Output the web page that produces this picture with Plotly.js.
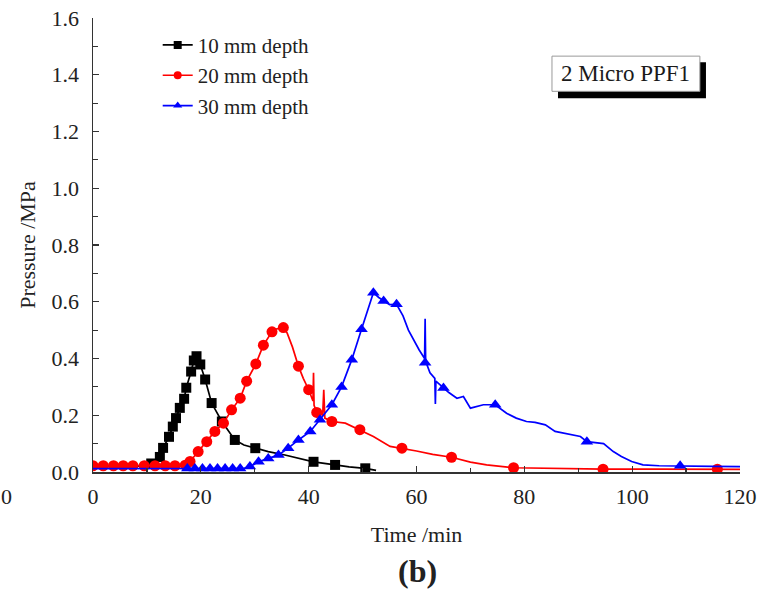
<!DOCTYPE html>
<html>
<head>
<meta charset="utf-8">
<script src="https://cdn.plot.ly/plotly-3.0.1.min.js"></script>
<style>html,body{margin:0;padding:0;background:#fff;}#chart{width:760px;height:600px;}</style>
</head>
<body>
<div id="chart"></div>
<script>
// ---- Data (Time /min, Pressure /MPa) ----
// 10 mm depth: full line and the points carrying markers
const d10LineT = [0, 2, 4, 6, 8, 10, 11.5, 12.4, 13.0, 14.1, 14.8, 15.4, 16.1, 16.9, 17.3, 18.2, 18.7, 19.2, 19.9, 20.8, 22.0, 23.9, 26.3, 28.0, 30.1, 32.5, 35.6, 38.0, 40.9, 44.9, 47.5, 50.5, 52.5];
const d10LineP = [0.02, 0.02, 0.02, 0.02, 0.02, 0.025, 0.04, 0.053, 0.085, 0.124, 0.16, 0.19, 0.226, 0.258, 0.297, 0.354, 0.393, 0.408, 0.379, 0.326, 0.243, 0.178, 0.113, 0.095, 0.084, 0.072, 0.06, 0.048, 0.036, 0.025, 0.018, 0.013, 0.006];
const d10MarkT = [10.8, 12.4, 13.0, 14.1, 14.8, 15.4, 16.1, 16.9, 17.3, 18.2, 18.7, 19.2, 19.9, 20.8, 22.0, 23.9, 26.3, 30.1, 40.9, 44.9, 50.5];
const d10MarkP = [0.03, 0.053, 0.085, 0.124, 0.16, 0.19, 0.226, 0.258, 0.297, 0.354, 0.393, 0.408, 0.379, 0.326, 0.243, 0.178, 0.113, 0.084, 0.036, 0.025, 0.013];

// 20 mm depth
const d20LineT = [0, 2, 4, 6, 8, 10, 12, 14, 16, 17.1, 18.0, 19.5, 21.1, 22.6, 24.2, 25.7, 27.3, 28.5, 30.2, 31.6, 33.2, 33.8, 35.3, 36.0, 37.0, 38.1, 39.0, 40.0, 40.8, 40.9, 41.0, 41.5, 42.6, 42.8, 43.0, 44.3, 46.8, 49.5, 52.0, 55.1, 57.3, 60.0, 63.0, 66.5, 70.0, 73.0, 78.0, 85.0, 94.6, 105, 115.8, 120];
const d20LineP = [0.022, 0.022, 0.022, 0.022, 0.022, 0.022, 0.022, 0.022, 0.022, 0.024, 0.037, 0.072, 0.107, 0.143, 0.172, 0.219, 0.26, 0.32, 0.381, 0.447, 0.494, 0.503, 0.509, 0.49, 0.44, 0.373, 0.33, 0.29, 0.25, 0.35, 0.235, 0.21, 0.2, 0.29, 0.19, 0.178, 0.172, 0.149, 0.125, 0.09, 0.084, 0.074, 0.062, 0.052, 0.035, 0.025, 0.015, 0.012, 0.01, 0.01, 0.01, 0.009];
const d20MarkT = [0, 1.9, 3.8, 5.6, 7.4, 9.5, 11.5, 13.4, 15.2, 17.1, 18.0, 19.5, 21.1, 22.6, 24.2, 25.7, 27.3, 28.5, 30.2, 31.6, 33.2, 35.3, 38.1, 40.0, 41.5, 44.3, 49.5, 57.3, 66.5, 78.0, 94.6, 115.8];
const d20MarkP = [0.022, 0.022, 0.022, 0.022, 0.022, 0.022, 0.022, 0.022, 0.022, 0.024, 0.037, 0.072, 0.107, 0.143, 0.172, 0.219, 0.26, 0.32, 0.381, 0.447, 0.494, 0.509, 0.373, 0.29, 0.21, 0.178, 0.149, 0.084, 0.052, 0.015, 0.01, 0.01];

// 30 mm depth
const d30LineT = [0, 4, 8, 12, 16, 20, 24, 28, 29.1, 30.7, 32.5, 34.4, 36.2, 38.1, 40.3, 42.1, 44.3, 46.1, 48.0, 49.8, 52.0, 53.0, 53.9, 55.0, 56.3, 57.5, 58.5, 59.4, 60.5, 61.5, 61.6, 61.7, 62.5, 63.4, 63.5, 63.6, 65.0, 66.0, 67.5, 68.7, 70.0, 71.0, 72.4, 74.6, 76.7, 78.5, 80.4, 82.0, 83.9, 85.7, 88.0, 90.4, 91.6, 93.0, 94.7, 96.5, 98.0, 99.9, 102, 105, 108.9, 115, 120];
const d30LineP = [0.012, 0.012, 0.012, 0.012, 0.012, 0.012, 0.012, 0.013, 0.019, 0.036, 0.048, 0.06, 0.084, 0.113, 0.143, 0.184, 0.237, 0.30, 0.396, 0.503, 0.632, 0.615, 0.603, 0.59, 0.591, 0.55, 0.50, 0.467, 0.43, 0.40, 0.54, 0.39, 0.35, 0.33, 0.24, 0.32, 0.296, 0.28, 0.26, 0.266, 0.225, 0.23, 0.237, 0.237, 0.207, 0.19, 0.178, 0.175, 0.166, 0.143, 0.135, 0.125, 0.107, 0.105, 0.10, 0.072, 0.055, 0.037, 0.025, 0.022, 0.022, 0.02, 0.019];
const d30MarkT = [17.5, 18.9, 20.3, 21.7, 23.1, 24.5, 25.9, 27.3, 29.1, 30.7, 32.5, 34.4, 36.2, 38.1, 40.3, 42.1, 44.3, 46.1, 48.0, 49.8, 52.0, 53.9, 56.3, 61.6, 65.0, 74.6, 91.6, 108.9];
const d30MarkP = [0.012, 0.012, 0.012, 0.012, 0.012, 0.012, 0.012, 0.012, 0.019, 0.036, 0.048, 0.06, 0.084, 0.113, 0.143, 0.184, 0.237, 0.30, 0.396, 0.503, 0.632, 0.603, 0.591, 0.385, 0.296, 0.237, 0.107, 0.022];

const seriesNames = ['10 mm depth', '20 mm depth', '30 mm depth'];
const xTickVals = [0, 20, 40, 60, 80, 100, 120];
const yTickVals = [0.0, 0.2, 0.4, 0.6, 0.8, 1.0, 1.2, 1.4, 1.6];
const boxLabel = '2 Micro PPF1';
const panelLabel = '(b)';

// ---- Styles ----
const styles = [
  {color: '#000000', symbol: 'square', size: 10},
  {color: '#ff0000', symbol: 'circle', size: 11},
  {color: '#0000ff', symbol: 'triangle-up', size: 11}
];
const lines = [[d10LineT, d10LineP], [d20LineT, d20LineP], [d30LineT, d30LineP]];
const marks = [[d10MarkT, d10MarkP], [d20MarkT, d20MarkP], [d30MarkT, d30MarkP]];

const traces = [];
for (let i = 0; i < 3; i++) {
  const s = styles[i];
  traces.push({x: lines[i][0], y: lines[i][1], mode: 'lines', type: 'scatter',
    line: {color: s.color, width: 1.7}, showlegend: false, hoverinfo: 'skip'});
  traces.push({x: marks[i][0], y: marks[i][1], mode: 'markers', type: 'scatter',
    marker: {color: s.color, symbol: s.symbol, size: s.size, line: {width: 0}}, showlegend: false});
}
// legend entries
for (let i = 0; i < 3; i++) {
  const s = styles[i];
  traces.push({x: [null], y: [null], mode: 'lines+markers', type: 'scatter', name: seriesNames[i],
    line: {color: s.color, width: 1.7}, marker: {color: s.color, symbol: s.symbol, size: 8}});
}

const font = 'Liberation Serif, Times New Roman, serif';
const layout = {
  width: 760, height: 600,
  margin: {l: 93, r: 20, t: 18, b: 128},
  paper_bgcolor: '#fff', plot_bgcolor: '#fff',
  font: {family: font, size: 22, color: '#222'},
  showlegend: true,
  legend: {x: 0.1, y: 0.985, xanchor: 'left', yanchor: 'top', bgcolor: 'rgba(0,0,0,0)',
    font: {family: font, size: 21, color: '#222'}, tracegroupgap: 0},
  xaxis: {range: [0, 120], tickvals: xTickVals, ticks: 'inside', ticklen: 6, tickwidth: 1.2,
    tickcolor: '#333', showline: true, linecolor: '#333', linewidth: 1.5, showgrid: false,
    zeroline: false, ticklabelstandoff: 4,
    minor: {dtick: 10, ticks: 'inside', ticklen: 4, tickcolor: '#333', showgrid: false},
    title: {text: 'Time /min', font: {family: font, size: 22, color: '#222'}, standoff: 18}},
  yaxis: {range: [0, 1.6], tickvals: yTickVals, tickformat: '.1f', ticks: 'inside', ticklen: 6,
    tickwidth: 1.2, tickcolor: '#333', showline: true, linecolor: '#333', linewidth: 1.5,
    showgrid: false, zeroline: false, ticklabelstandoff: 8,
    minor: {dtick: 0.1, ticks: 'inside', ticklen: 5, tickcolor: '#333', showgrid: false},
    title: {text: 'Pressure /MPa', font: {family: font, size: 22, color: '#222'}, standoff: 10}},
  shapes: [
    {type: 'rect', xref: 'paper', yref: 'paper', x0: 0.7187, x1: 0.9474, y0: 0.823, y1: 0.9027,
      fillcolor: '#000', line: {width: 0}, layer: 'above'},
    {type: 'rect', xref: 'paper', yref: 'paper', x0: 0.7094, x1: 0.938, y0: 0.8385, y1: 0.916,
      fillcolor: '#fff', line: {color: '#999', width: 1}, layer: 'above'}
  ],
  annotations: [
    {xref: 'paper', yref: 'paper', x: 0.8237, y: 0.877, text: boxLabel, showarrow: false,
      xanchor: 'center', yanchor: 'middle', font: {family: font, size: 23, color: '#1a1a1a'}},
    {xref: 'paper', yref: 'paper', x: 0.502, y: -0.218, text: '<b>' + panelLabel + '</b>', showarrow: false,
      xanchor: 'center', yanchor: 'middle', font: {family: font, size: 32, color: '#222'}},
    {xref: 'paper', yref: 'paper', x: -0.133, y: -0.055, text: '0', showarrow: false,
      xanchor: 'center', yanchor: 'middle', font: {family: font, size: 22, color: '#222'}}
  ]
};

Plotly.newPlot('chart', traces, layout, {displayModeBar: false, staticPlot: true});
</script>
</body>
</html>
